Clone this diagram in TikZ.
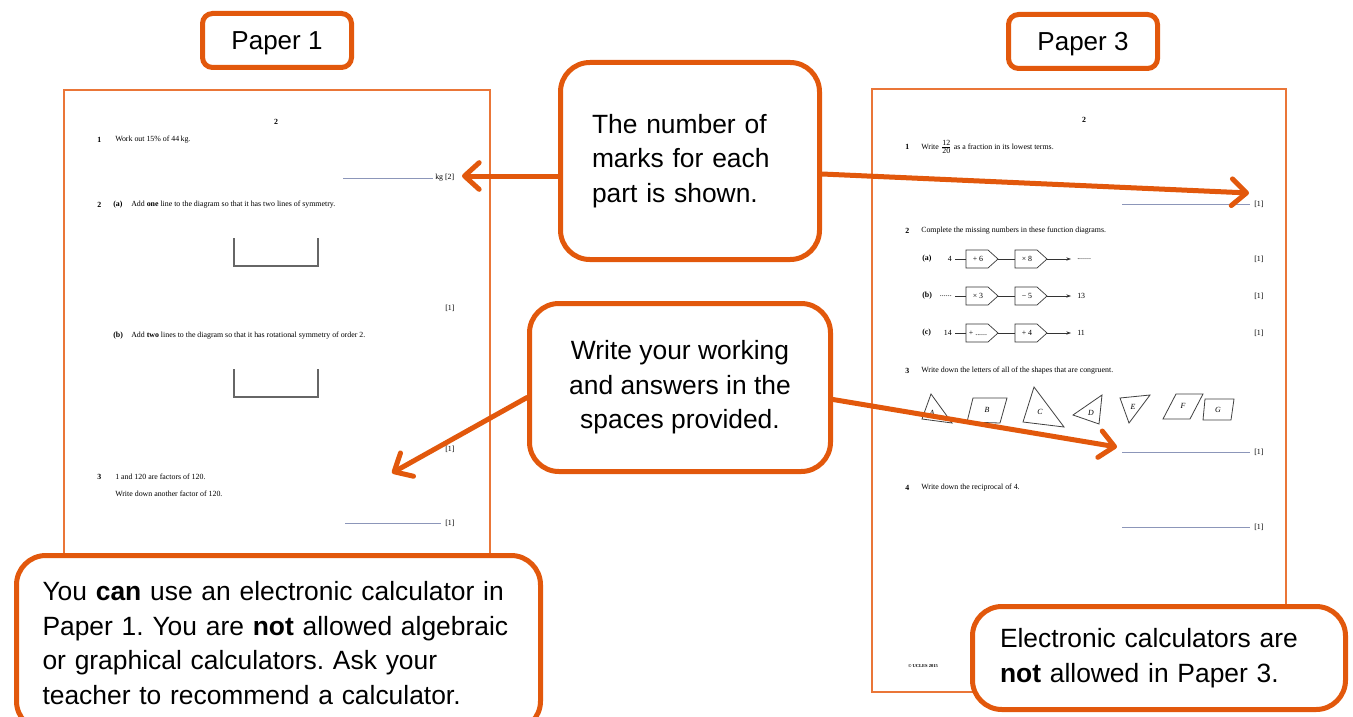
\documentclass[tikz,border=0pt]{standalone}
\usepackage{fontspec}
\setmainfont{Liberation Sans}
\newfontfamily\papfont{Liberation Serif}
\usetikzlibrary{arrows.meta,calc}
\definecolor{org}{RGB}{226,88,12}
\definecolor{pline}{RGB}{234,118,56}
\definecolor{dotc}{RGB}{140,150,185}
\newcommand\pdsA{.......}
\newcommand\pdsB{......}
\newcommand\pplusdots{+ ......}
\frenchspacing
\begin{document}
\begin{tikzpicture}[x=0.75pt,y=-0.75pt,
  callout/.style={draw=org, line width=3.75pt, fill=white, rounded corners=22pt,
    font=\fontsize{19.8}{26}\selectfont, inner sep=0pt},
  tag/.style={draw=org, line width=3.75pt, fill=white, rounded corners=7.5pt,
    font=\fontsize{19.5}{22}\selectfont, inner sep=0pt, text depth=0pt,
    minimum width=149*0.75pt, minimum height=54*0.75pt},
  paper/.style={draw=pline, line width=1.5pt, fill=white},
  arr/.style={draw=org, line width=3.75pt, line cap=round,
    -{Straight Barb[length=11pt,width=20pt,line join=round,line cap=round]}},
  ptxt/.style={font=\papfont\fontsize{5.9}{7}\selectfont, inner sep=0pt, anchor=west},
  pctr/.style={font=\papfont\fontsize{5.9}{7}\selectfont, inner sep=0pt},
  ans/.style={draw=dotc, line width=0.4pt, dash pattern=on 0.2pt off 0.45pt},
  ushape/.style={draw=gray!80!black, line width=0.8pt},
  shp/.style={draw=black!75, line width=0.6pt},
  fbox/.style={draw=black!80, line width=0.5pt},
  fline/.style={draw=black!80, line width=0.5pt}
]
\useasboundingbox (0,0) rectangle (1353,717);
\clip (0,0) rectangle (1353,717);

% ---------- papers ----------
\draw[paper] (64,90) rectangle (490,640);
\draw[paper] (872,89) rectangle (1286,692);

% ---------- Paper 1 content ----------
\node[pctr] (l0) at (276,122) {\textbf{2}};
\node[ptxt] (l1n) at (97,140) {\textbf{1}};
\node[ptxt] (l1t) at (115,140) {Work out 15\% of 44\,kg.};
\draw[ans] (343,178) -- (433,178);
\node[ptxt] (l1m) at (435,178) {kg [2]};
\node[ptxt] (l2n) at (97,205) {\textbf{2}};
\node[ptxt] (l2a) at (113,205) {\textbf{(a)}};
\node[ptxt] (l2t) at (131,205) {Add \textbf{one} line to the diagram so that it has two lines of symmetry.};
\draw[ushape] (234,238) -- (234,266) -- (318,266) -- (318,238);
\node[ptxt] (l2m) at (445,308) {[1]};
\node[ptxt] (l2b) at (113,336) {\textbf{(b)}};
\node[ptxt] (l2u) at (131,336) {Add \textbf{two} lines to the diagram so that it has rotational symmetry of order 2.};
\draw[ushape] (234,369) -- (234,397) -- (318,397) -- (318,369);
\node[ptxt] (l2k) at (445,449) {[1]};
\node[ptxt] (l3n) at (97,477) {\textbf{3}};
\node[ptxt] (l3t) at (115,477) {1 and 120 are factors of 120.};
\node[ptxt] (l3u) at (115,494) {Write down another factor of 120.};
\draw[ans] (345,523) -- (441,523);
\node[ptxt] (l3m) at (445,523) {[1]};

% ---------- Paper 3 content ----------
\node[pctr] (r0) at (1084,120) {\textbf{2}};
\node[ptxt] (r1n) at (905,147) {\textbf{1}};
\node[ptxt] (r1t) at (921,147) {Write $\frac{\mbox{12}}{\mbox{20}}$ as a fraction in its lowest terms.};
\draw[ans] (1122,204) -- (1250,204);
\node[ptxt] (r1m) at (1254,204) {[1]};
\node[ptxt] (r2n) at (905,231) {\textbf{2}};
\node[ptxt] (r2t) at (921,231) {Complete the missing numbers in these function diagrams.};
% rows
\foreach \y/\lab/\inp/\opa/\opb/\out [count=\i] in
  {259/(a)/4/+ 6/× 8/\pdsA,
   296/(b)/\pdsB/× 3/− 5/13,
   333/(c)/14/\pplusdots/+ 4/11}{
  \node[ptxt] (rl\i) at (922,\y) {\textbf{\lab}};
  \node[ptxt, anchor=east] (ri\i) at (952,\y) {\inp};
  \draw[fbox] (966,\y-9) -- (988,\y-9) -- (998,\y) -- (988,\y+9) -- (966,\y+9) -- cycle;
  \draw[fbox] (1015,\y-9) -- (1037,\y-9) -- (1047,\y) -- (1037,\y+9) -- (1015,\y+9) -- cycle;
  \node[pctr] (ra\i) at (978,\y) {\opa};
  \node[pctr] (rb\i) at (1027,\y) {\opb};
  \node[ptxt] (ro\i) at (1077,\y) {\out};
  \node[ptxt] (rm\i) at (1254,\y) {[1]};
  \draw[fline] (955,\y) -- (966,\y);
  \draw[fline] (998,\y) -- (1015,\y);
  \draw[fline, -{Stealth[length=3.5pt,width=2.5pt]}] (1047,\y) -- (1071,\y);
}
\node[ptxt] (r3n) at (905,371) {\textbf{3}};
\node[ptxt] (r3t) at (921,371) {Write down the letters of all of the shapes that are congruent.};
\draw[shp] (931,394) -- (922,419) -- (952,423) -- cycle;
\draw[shp] (973,398) -- (1007,398) -- (1000,423) -- (967,422) -- cycle;
\draw[shp] (1034,387) -- (1023,422) -- (1064,427) -- cycle;
\draw[shp] (1102,395) -- (1073,415) -- (1099,424) -- cycle;
\draw[shp] (1120,398) -- (1150,395) -- (1129,423) -- cycle;
\draw[shp] (1176,394) -- (1203,394) -- (1190,419) -- (1163,419) -- cycle;
\draw[shp] (1205,399) -- (1234,399) -- (1231,420) -- (1203,420) -- cycle;
\node[pctr] (sA) at (932,413) {\textit{A}};
\node[pctr] (sB) at (987,410) {\textit{B}};
\node[pctr] (sC) at (1040,412) {\textit{C}};
\node[pctr] (sD) at (1091,413) {\textit{D}};
\node[pctr] (sE) at (1133,407) {\textit{E}};
\node[pctr] (sF) at (1183,406) {\textit{F}};
\node[pctr] (sG) at (1218,410) {\textit{G}};
\draw[ans] (1122,452) -- (1250,452);
\node[ptxt] (r3m) at (1254,452) {[1]};
\node[ptxt] (r4n) at (905,488) {\textbf{4}};
\node[ptxt] (r4t) at (921,488) {Write down the reciprocal of 4.};
\draw[ans] (1122,527) -- (1250,527);
\node[ptxt] (r4m) at (1254,527) {[1]};
\node[pctr, font=\papfont\fontsize{3.4}{4}\selectfont] (ucl) at (923,666) {\textbf{© UCLES 2015}};

% ---------- tags ----------
\node[tag] (tag1) at (277,40.5) {Paper 1};
\node[tag] (tag3) at (1083,41.5) {Paper 3};

% ---------- callouts ----------
\node[callout, minimum width=259*0.75pt, minimum height=197*0.75pt, align=left, text width=196*0.75pt] (c1) at (690,161)
  {The number of\\marks for each\\part is shown.};
\node[callout, minimum width=301*0.75pt, minimum height=168*0.75pt, align=center] (c2) at (680,387.5)
  {Write your working\\and answers in the\\spaces provided.};
\node[callout, minimum width=524*0.75pt, minimum height=175*0.75pt, align=left, text width=472*0.75pt] (c3) at (278.5,643)
  {You \textbf{can} use an electronic calculator in\\Paper 1. You are \textbf{not} allowed algebraic\\or graphical calculators. Ask your\\teacher to recommend a calculator.};
\node[callout, minimum width=373*0.75pt, minimum height=103*0.75pt, align=left, text width=318*0.75pt] (c4) at (1159,658)
  {Electronic calculators are\\\textbf{not} allowed in Paper 3.};

% ---------- arrows ----------
\coordinate (t1) at (462,176);
\coordinate (t2) at (1249,193);
\coordinate (t3) at (392,473);
\coordinate (t4) at (1117,447);
\draw[arr] ($(c1.west)+(0,15)$) -- (t1);
\draw[arr] ($(c1.east)+(0,13)$) -- (t2);
\draw[arr] ($(c2.west)+(0,10)$) -- (t3);
\draw[arr] ($(c2.east)+(0,12)$) -- (t4);
\end{tikzpicture}
\end{document}
